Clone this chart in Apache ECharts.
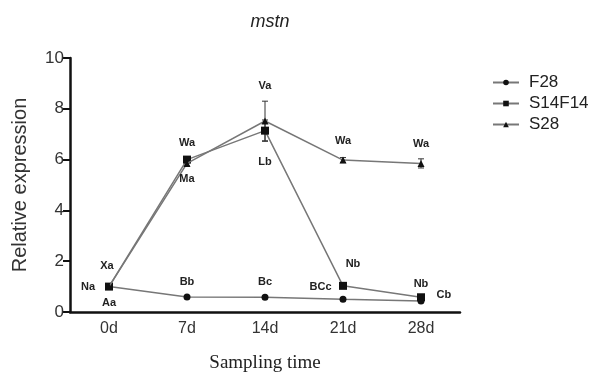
<!DOCTYPE html>
<html>
<head>
<meta charset="utf-8">
<script src="https://cdn.jsdelivr.net/npm/echarts@6/dist/echarts.min.js"></script>
<style>
  html, body { margin: 0; padding: 0; background: #fff; }
  #main { width: 595px; height: 378px; }
</style>
</head>
<body>
<div id="main"></div>
<script>
// data
var days = ['0d', '7d', '14d', '21d', '28d'];
var f28 = [1.0, 0.59, 0.58, 0.5, 0.43];
var s14f14 = [1.0, 6.0, 7.14, 1.03, 0.58];
var s28 = [1.0, 5.85, 7.52, 5.98, 5.85];
var f28Err = [0.05, 0.03, 0.03, 0.03, 0.05];
var s14f14Err = [0.05, 0.1, 0.42, 0.05, 0.08];
var s28Err = [0.05, 0.1, 0.78, 0.1, 0.18];
var f28Tags = ['Aa', 'Bb', 'Bc', 'BCc', 'Cb'];
var s14f14Tags = ['Na', 'Wa', 'Lb', 'Nb', 'Nb'];
var s28Tags = ['Xa', 'Ma', 'Va', 'Wa', 'Wa'];
var yTicks = [0, 2, 4, 6, 8, 10];

var tagFont = { fontFamily: 'Arial, Liberation Sans', fontWeight: 'bold', fontSize: 11, color: '#222' };

function withTags(values, tags, places) {
    return values.map(function (v, i) {
        var p = places[i];
        return {
            value: v,
            label: Object.assign({ show: true, formatter: tags[i], position: p[0], distance: p[1] || 5, offset: p[2] || [0, 0] }, tagFont)
        };
    });
}

function errSeries(values, errs, name) {
    return {
        type: 'custom',
        name: name + ' err',
        silent: true,
        z: 1,
        data: values.map(function (v, i) { return [i, v - errs[i], v + errs[i]]; }),
        renderItem: function (params, api) {
            var lo = api.coord([api.value(0), api.value(1)]);
            var hi = api.coord([api.value(0), api.value(2)]);
            var w = 3;
            var st = { stroke: '#333', lineWidth: 1 };
            return {
                type: 'group',
                children: [
                    { type: 'line', shape: { x1: lo[0], y1: lo[1], x2: hi[0], y2: hi[1] }, style: st },
                    { type: 'line', shape: { x1: lo[0] - w, y1: lo[1], x2: lo[0] + w, y2: lo[1] }, style: st },
                    { type: 'line', shape: { x1: hi[0] - w, y1: hi[1], x2: hi[0] + w, y2: hi[1] }, style: st }
                ]
            };
        }
    };
}

var lineStyle = { color: '#777', width: 1.5 };

var myChart = echarts.init(document.getElementById('main'));
var option = {
    animation: false,
    title: {
        text: 'mstn',
        left: 265,
        top: 8,
        textAlign: 'center',
        textStyle: { fontFamily: 'Arial, Liberation Sans', fontStyle: 'italic', fontWeight: 'normal', fontSize: 18, color: '#222' }
    },
    legend: {
        orient: 'vertical',
        left: 487,
        top: 69,
        itemGap: 4,
        itemWidth: 26,
        itemHeight: 7,
        data: ['F28', 'S14F14', 'S28'],
        textStyle: { fontFamily: 'Arial, Liberation Sans', fontSize: 17, color: '#222', padding: [0, 0, 0, 5] }
    },
    grid: { left: 70, top: 58, width: 390, height: 258 },
    xAxis: {
        type: 'category',
        data: days,
        boundaryGap: true,
        name: 'Sampling time',
        nameLocation: 'middle',
        nameGap: 42,
        nameTextStyle: { fontFamily: 'Times New Roman, Liberation Serif, serif', fontSize: 19, color: '#222' },
        axisLine: { lineStyle: { color: '#111', width: 2.5 } },
        axisTick: { alignWithLabel: true, length: 6, lineStyle: { color: '#111', width: 2 } },
        axisLabel: { fontFamily: 'Arial, Liberation Sans', fontSize: 16, color: '#333', margin: 9 },
        splitLine: { show: false }
    },
    yAxis: {
        type: 'value',
        min: 0,
        max: 10,
        interval: 2,
        name: 'Relative expression',
        nameLocation: 'middle',
        nameGap: 40,
        nameTextStyle: { fontFamily: 'Arial, Liberation Sans', fontSize: 20, color: '#333' },
        axisLine: { show: true, lineStyle: { color: '#111', width: 2.5 } },
        axisTick: { show: true, length: 7, lineStyle: { color: '#111', width: 2 } },
        axisLabel: {
            fontFamily: 'Arial, Liberation Sans', fontSize: 17, color: '#333', margin: 6,
            formatter: function (v) { return yTicks.indexOf(v) >= 0 ? String(v) : ''; }
        },
        splitLine: { show: false }
    },
    series: [
        errSeries(s28, s28Err, 'S28'),
        errSeries(s14f14, s14f14Err, 'S14F14'),
        errSeries(f28, f28Err, 'F28'),
        {
            name: 'F28',
            type: 'line',
            symbol: 'circle',
            symbolSize: 7,
            z: 3,
            itemStyle: { color: '#111' },
            lineStyle: lineStyle,
            data: withTags(f28, f28Tags, [
                ['bottom', 7], ['top', 6], ['top', 6], ['left', 8, [0, -12]], ['right', 12, [0, -6]]
            ])
        },
        {
            name: 'S14F14',
            type: 'line',
            symbol: 'rect',
            symbolSize: 8,
            z: 4,
            itemStyle: { color: '#111' },
            lineStyle: lineStyle,
            data: withTags(s14f14, s14f14Tags, [
                ['left', 10], ['top', 7], ['bottom', 22], ['top', 12, [10, 0]], ['top', 4]
            ])
        },
        {
            name: 'S28',
            type: 'line',
            symbol: 'triangle',
            symbolSize: 7,
            z: 5,
            itemStyle: { color: '#111' },
            lineStyle: lineStyle,
            data: withTags(s28, s28Tags, [
                ['top', 12, [-2, 0]], ['bottom', 7], ['top', 26], ['top', 10], ['top', 10]
            ])
        }
    ]
};
myChart.setOption(option);
</script>
</body>
</html>
